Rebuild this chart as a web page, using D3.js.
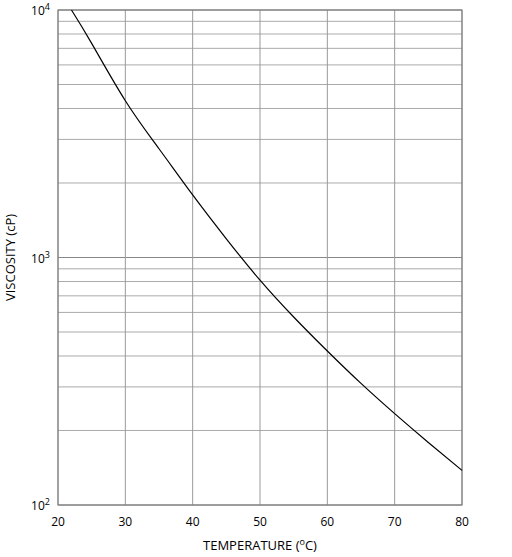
<!DOCTYPE html>
<html><head><meta charset="utf-8">
<script src="https://cdn.jsdelivr.net/npm/d3@7"></script>
<style>body{margin:0;background:#fff}text{font-family:"Open Sans",sans-serif;font-size:12px;fill:#000}</style>
</head><body><svg id="c" width="512" height="557"></svg>
<script>
const xTicks=[20,30,40,50,60,70,80];
const temps=[22,25,30,35,40,45,50,55,60,65,70,75,80];
const viscosity=[10000,7330,4300,2750,1790,1190,810,575,419,310,234,179,138];
const yMajor=[100,1000,10000];
const yMajorLabels=["2","3","4"];
const m={l:58,r:462,t:10,b:505};
const svg=d3.select("#c");
const x=d3.scaleLinear().domain([20,80]).range([m.l,m.r]);
const y=d3.scaleLog().domain([100,10000]).range([m.b,m.t]);
const minor=[];[100,1000].forEach(d=>{for(let k=1;k<10;k++)minor.push(d*k)});minor.push(10000);
svg.append("g").selectAll("line").data(minor).join("line")
 .attr("x1",m.l).attr("x2",m.r).attr("y1",d=>y(d)).attr("y2",d=>y(d))
 .attr("stroke",d=>yMajor.includes(d)?"#888":"#aaa").attr("stroke-width",1);
svg.append("g").selectAll("line").data(xTicks).join("line")
 .attr("x1",d=>x(d)).attr("x2",d=>x(d)).attr("y1",m.t).attr("y2",m.b).attr("stroke","#999");
svg.append("rect").attr("x",m.l).attr("y",m.t).attr("width",m.r-m.l).attr("height",m.b-m.t).attr("fill","none").attr("stroke","#777");
svg.append("g").selectAll("text").data(xTicks).join("text").attr("x",d=>x(d)).attr("y",m.b+21).attr("text-anchor","middle").text(d=>d);
const yl=svg.append("g").selectAll("text").data(yMajor).join("text").attr("x",m.l-8).attr("y",d=>y(d)+5).attr("text-anchor","end");
yl.append("tspan").text("10");
yl.append("tspan").attr("dy",-5).style("font-size","9px").text((d,i)=>yMajorLabels[i]);
const line=d3.line().x((d,i)=>x(temps[i])).y(d=>y(d)).curve(d3.curveNatural);
svg.append("path").attr("d",line(viscosity)).attr("fill","none").attr("stroke","#000").attr("stroke-width",1.2);
const xt=svg.append("text").attr("x",(m.l+m.r)/2).attr("y",550).attr("text-anchor","middle").style("font-size","13px");
xt.append("tspan").text("TEMPERATURE (");xt.append("tspan").attr("dy",-5).style("font-size","9px").text("o");
xt.append("tspan").attr("dy",5).text("C)");
svg.append("text").attr("transform",`translate(15,${(m.t+m.b)/2}) rotate(-90)`).attr("text-anchor","middle").style("font-size","13px").text("VISCOSITY (cP)");
</script></body></html>
